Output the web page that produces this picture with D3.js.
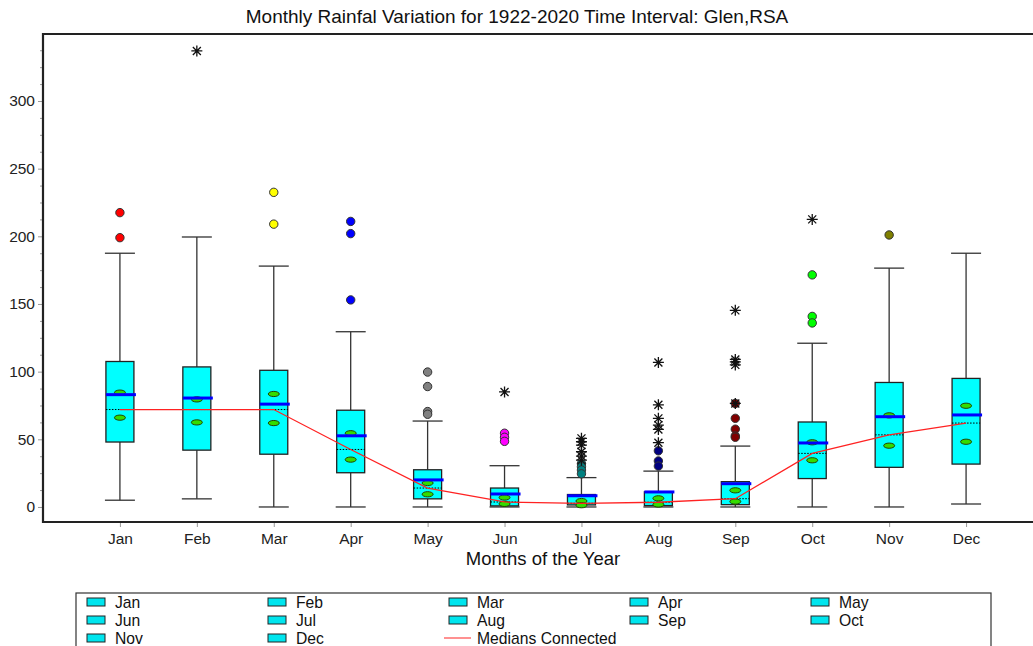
<!DOCTYPE html>
<html>
<head>
<meta charset="utf-8">
<script src="https://cdn.jsdelivr.net/npm/d3@7"></script>
<style>
  body { margin: 0; background: #fff; }
  svg { font-family: "Liberation Sans", Arial, sans-serif; }
</style>
</head>
<body>
<div id="chart"></div>
<script>
// values (mm)
var months = ["Jan", "Feb", "Mar", "Apr", "May", "Jun", "Jul", "Aug", "Sep", "Oct", "Nov", "Dec"];
var whiskerLow  = [5, 6, 0, 0, 0, 0, 0, 0, 0, 0, 0, 2.2];
var q1          = [48, 42, 39, 25.3, 6, 0.8, 1.5, 1, 1.7, 21, 29.3, 31.7];
var medians     = [72, 72, 72, 42.5, 14, 3.7, 2.7, 3.5, 6.1, 39.6, 53.3, 62];
var means       = [83, 80.5, 76, 52.6, 20, 9.6, 8.3, 11.1, 17.2, 47.3, 66.7, 68];
var q3          = [107.5, 103.5, 101, 71.5, 27.5, 14, 9.2, 11.2, 18.7, 62.8, 92, 95];
var whiskerHigh = [187.5, 199.5, 178, 129.5, 63.5, 30.5, 21.7, 26.5, 45, 121, 176.5, 187.5];
var ciUpper     = [84.5, 79.5, 83.5, 54.5, 17.7, 7, 4.4, 6.4, 12.3, 47.8, 67.7, 74.8];
var ciLower     = [66, 62.5, 62, 35, 9.4, 2.3, 1.3, 1.8, 4, 34.5, 45.3, 48.2];
var outliers = [
  [217.5, 199], [], [232.5, 209], [211, 202, 153], [99.7, 89, 70.5, 68.5],
  [54.5, 51.5, 48.5], [32, 29.7, 27.3, 24.5], [41.5, 34, 30.2],
  [76.5, 65.5, 57.5, 52.5, 51.5], [171.5, 140.8, 136], [201], []
];
var extremes = [
  [], [337], [], [], [], [85],
  [50.7, 48.2, 45.7, 40.8, 37.6, 34.6], [106.8, 75.5, 65.5, 60.5, 57.3, 47.5],
  [145.3, 109, 107.2, 105, 76.5], [212.5], [], []
];
var yTicks = [0, 50, 100, 150, 200, 250, 300];

var outlierColors = ["#ff0000", "#ff0000", "#ffff00", "#0000ff", "#808080", "#ff00ff",
                     "#008080", "#000080", "#800000", "#00ff00", "#808000", "#ffffff"];

var W = 1033, H = 646;
var plot = {left: 43, right: 1033, top: 34, bottom: 522};

var svg = d3.select("#chart").append("svg")
    .attr("width", W)
    .attr("height", H);

var x = d3.scaleLinear()
    .domain([0, 12.87])
    .range([plot.left, plot.right]);
var y = d3.scaleLinear()
    .domain([-11.1, 349.5])
    .range([plot.bottom, plot.top]);

var boxW = 28;

// title
svg.append("text")
    .attr("x", 517).attr("y", 23)
    .attr("text-anchor", "middle")
    .style("font-size", "19px")
    .style("fill", "#111")
    .text("Monthly Rainfal Variation for 1922-2020 Time Interval: Glen,RSA");

// minor y ticks
var minor = d3.range(-0, 345, 12.5).filter(function(v) { return v % 50 != 0; });
svg.append("g")
    .attr("transform", "translate(" + plot.left + ",0)")
    .call(d3.axisLeft(y).tickValues(minor).tickSize(3).tickFormat(""))
    .call(function(g) { g.select(".domain").remove(); })
    .selectAll("line").attr("stroke", "#999");

// y axis
var yAxis = svg.append("g")
    .attr("transform", "translate(" + plot.left + ",0)")
    .call(d3.axisLeft(y).tickValues(yTicks).tickSize(5).tickPadding(3));
yAxis.select(".domain").remove();
yAxis.selectAll("line").attr("stroke", "#999");
yAxis.selectAll("text").style("font-size", "15.5px").style("fill", "#222").attr("font-family", null);

// x axis
var xAxis = svg.append("g")
    .attr("transform", "translate(0," + plot.bottom + ")")
    .call(d3.axisBottom(x).tickValues(d3.range(1, 13)).tickSize(5).tickPadding(6)
      .tickFormat(function(d) { return months[d - 1]; }));
xAxis.select(".domain").remove();
xAxis.selectAll("line").attr("stroke", "#999");
xAxis.selectAll("text").style("font-size", "15.5px").style("fill", "#222").attr("font-family", null);

// frame
svg.append("path")
    .attr("d", "M" + plot.right + "," + plot.top + "H" + plot.left + "V" + plot.bottom + "H" + plot.right)
    .attr("fill", "none")
    .attr("stroke", "#222")
    .attr("stroke-width", 2.2);

svg.append("text")
    .attr("x", 543).attr("y", 565)
    .attr("text-anchor", "middle")
    .style("font-size", "18.5px")
    .style("fill", "#111")
    .text("Months of the Year");

// boxes
var g = svg.append("g");
months.forEach(function(m, i) {
  var cx = x(i + 1);
  // whiskers
  g.append("line").attr("x1", cx).attr("x2", cx).attr("y1", y(q3[i])).attr("y2", y(whiskerHigh[i]))
    .attr("stroke", "#333").attr("stroke-width", 1.3);
  g.append("line").attr("x1", cx).attr("x2", cx).attr("y1", y(q1[i])).attr("y2", y(whiskerLow[i]))
    .attr("stroke", "#333").attr("stroke-width", 1.3);
  [whiskerHigh[i], whiskerLow[i]].forEach(function(v) {
    g.append("line").attr("x1", cx - 15).attr("x2", cx + 15).attr("y1", y(v)).attr("y2", y(v))
      .attr("stroke", "#333").attr("stroke-width", 1.3);
  });
  // box
  g.append("rect")
    .attr("x", cx - boxW / 2).attr("y", y(q3[i]))
    .attr("width", boxW).attr("height", y(q1[i]) - y(q3[i]))
    .attr("fill", "#00ffff").attr("stroke", "#222").attr("stroke-width", 1.3);
  // median (dotted)
  g.append("line").attr("x1", cx - boxW / 2).attr("x2", cx + boxW / 2)
    .attr("y1", y(medians[i])).attr("y2", y(medians[i]))
    .attr("stroke", "#000").attr("stroke-width", 1).attr("stroke-dasharray", "1.5,1.5");
  // green markers
  [ciUpper[i], ciLower[i]].forEach(function(v) {
    g.append("ellipse").attr("cx", cx).attr("cy", y(v)).attr("rx", 5.5).attr("ry", 2.6)
      .attr("fill", "#33dd00").attr("stroke", "#224400").attr("stroke-width", 1);
  });
  // mean
  g.append("line").attr("x1", cx - boxW / 2).attr("x2", cx + boxW / 2 + 2)
    .attr("y1", y(means[i])).attr("y2", y(means[i]))
    .attr("stroke", "#0000ff").attr("stroke-width", 3);
  // outliers
  outliers[i].forEach(function(v) {
    g.append("circle").attr("cx", cx).attr("cy", y(v)).attr("r", 4.2)
      .attr("fill", outlierColors[i]).attr("stroke", "#333").attr("stroke-width", 1);
  });
  extremes[i].forEach(function(v) {
    var s = g.append("g").attr("transform", "translate(" + cx + "," + y(v) + ")");
    s.append("path")
      .attr("d", "M-5.5,0H5.5M0,-5.5V5.5M-4,-4L4,4M-4,4L4,-4")
      .attr("stroke", "#111").attr("stroke-width", 1.3);
  });
});

// medians connected
svg.append("path")
  .datum(medians)
  .attr("fill", "none")
  .attr("stroke", "#ff2222")
  .attr("stroke-width", 1.3)
  .attr("d", d3.line()
    .x(function(d, i) { return x(i + 1); })
    .y(function(d) { return y(d); }));

// legend
var legend = svg.append("g");
legend.append("rect")
  .attr("x", 76).attr("y", 593).attr("width", 915).attr("height", 60)
  .attr("fill", "#fff").attr("stroke", "#333").attr("stroke-width", 1.2);
var legendItems = months.concat(["Medians Connected"]);
legendItems.forEach(function(name, i) {
  var col = i % 5, row = Math.floor(i / 5);
  var lx = 87 + col * 181, ly = 602 + row * 18;
  if (i < 12) {
    legend.append("rect").attr("x", lx).attr("y", ly - 4).attr("width", 18).attr("height", 8)
      .attr("fill", "#00e5ee").attr("stroke", "#222").attr("stroke-width", 1);
  } else {
    legend.append("line").attr("x1", lx - 5).attr("x2", lx + 22).attr("y1", ly).attr("y2", ly)
      .attr("stroke", "#ff5555").attr("stroke-width", 1.3);
  }
  legend.append("text")
    .attr("x", lx + 28).attr("y", ly + 5.5)
    .style("font-size", "15.7px").style("fill", "#111")
    .text(name);
});
</script>
</body>
</html>
